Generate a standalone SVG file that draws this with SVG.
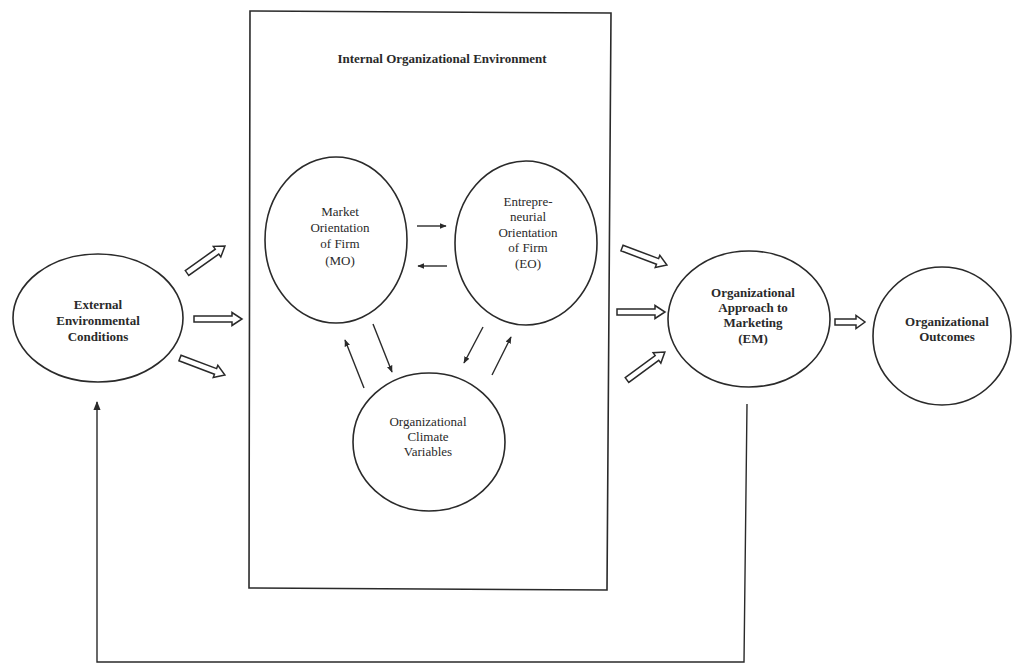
<svg xmlns="http://www.w3.org/2000/svg" xmlns:xlink="http://www.w3.org/1999/xlink" width="1012" height="665" viewBox="0 0 1012 665">
<style>
.n{fill:none;stroke:#2a2a2a;stroke-width:1.6}
.t{font-family:"Liberation Serif","Times New Roman",serif;font-size:13px;fill:#2a2a2a;text-anchor:middle}
.b{font-weight:bold}
.thin{fill:none;stroke:#2a2a2a;stroke-width:1.4}
.hol{fill:#fff;stroke:#2a2a2a;stroke-width:1.5;stroke-linejoin:miter}
</style>
<defs>
<marker id="ah" viewBox="0 0 10 10" refX="9" refY="5" markerWidth="7" markerHeight="7" markerUnits="userSpaceOnUse" orient="auto">
<path d="M0,1 L10,5 L0,9 Z" fill="#2a2a2a"/>
</marker>
<marker id="ahb" viewBox="0 0 10 10" refX="9" refY="5" markerWidth="9" markerHeight="9" markerUnits="userSpaceOnUse" orient="auto">
<path d="M0,1 L10,5 L0,9 Z" fill="#2a2a2a"/>
</marker>
<path id="blk" class="hol" d="M0,-3 L38,-3 L38,-6.5 L48,0 L38,6.5 L38,3 L0,3 Z"/>
<path id="blks" class="hol" d="M0,-3 L21,-3 L21,-6.5 L30,0 L21,6.5 L21,3 L0,3 Z"/>
</defs>
<rect width="1012" height="665" fill="#fff"/>

<g id="internal-environment">
<path class="n" d="M250,11 L611,13 L607,590 L249,588 Z"/>
<text class="t b" x="442" y="63">Internal Organizational Environment</text>
</g>

<g id="external">
<ellipse class="n" cx="98" cy="318" rx="85" ry="64"/>
<text class="t b" x="98" y="309">External</text>
<text class="t b" x="98" y="325">Environmental</text>
<text class="t b" x="98" y="341">Conditions</text>
</g>

<g id="mo">
<ellipse class="n" cx="336" cy="240" rx="71" ry="83"/>
<text class="t" x="340" y="216">Market</text>
<text class="t" x="340" y="232">Orientation</text>
<text class="t" x="340" y="248">of Firm</text>
<text class="t" x="340" y="265">(MO)</text>
</g>

<g id="eo">
<ellipse class="n" cx="526" cy="243" rx="71" ry="82"/>
<text class="t" x="528" y="206">Entrepre-</text>
<text class="t" x="528" y="221">neurial</text>
<text class="t" x="528" y="237">Orientation</text>
<text class="t" x="528" y="252">of Firm</text>
<text class="t" x="528" y="268">(EO)</text>
</g>

<g id="oc">
<ellipse class="n" cx="429" cy="442" rx="76" ry="69"/>
<text class="t" x="428" y="426">Organizational</text>
<text class="t" x="428" y="441">Climate</text>
<text class="t" x="428" y="456">Variables</text>
</g>

<g id="em">
<ellipse class="n" cx="749" cy="319" rx="81" ry="68"/>
<text class="t b" x="753" y="297">Organizational</text>
<text class="t b" x="753" y="312">Approach to</text>
<text class="t b" x="753" y="327">Marketing</text>
<text class="t b" x="753" y="343">(EM)</text>
</g>

<g id="outcomes">
<ellipse class="n" cx="942" cy="336" rx="69" ry="69"/>
<text class="t b" x="947" y="326">Organizational</text>
<text class="t b" x="947" y="341">Outcomes</text>
</g>

<g id="connectors">
<use xlink:href="#blk" href="#blk" transform="translate(187,273) rotate(-35.4) scale(0.97,1)"/>
<use xlink:href="#blk" href="#blk" transform="translate(194,319)"/>
<use xlink:href="#blk" href="#blk" transform="translate(180,358) rotate(20.7)"/>
<use xlink:href="#blk" href="#blk" transform="translate(622,248) rotate(20.7)"/>
<use xlink:href="#blk" href="#blk" transform="translate(617,312)"/>
<use xlink:href="#blk" href="#blk" transform="translate(627,380) rotate(-36.4) scale(0.98,1)"/>
<use xlink:href="#blks" href="#blks" transform="translate(835,322)"/>

<line class="thin" x1="417" y1="226" x2="446" y2="226" marker-end="url(#ah)"/>
<line class="thin" x1="447" y1="266" x2="418" y2="266" marker-end="url(#ah)"/>
<line class="thin" x1="373" y1="324" x2="392" y2="372" marker-end="url(#ah)"/>
<line class="thin" x1="364" y1="388" x2="345" y2="340" marker-end="url(#ah)"/>
<line class="thin" x1="483" y1="327" x2="464" y2="363" marker-end="url(#ah)"/>
<line class="thin" x1="492" y1="375" x2="511" y2="337" marker-end="url(#ah)"/>

<path class="thin" d="M747,404 L744,662 L97,662 L97,402" marker-end="url(#ahb)"/>
</g>
</svg>
